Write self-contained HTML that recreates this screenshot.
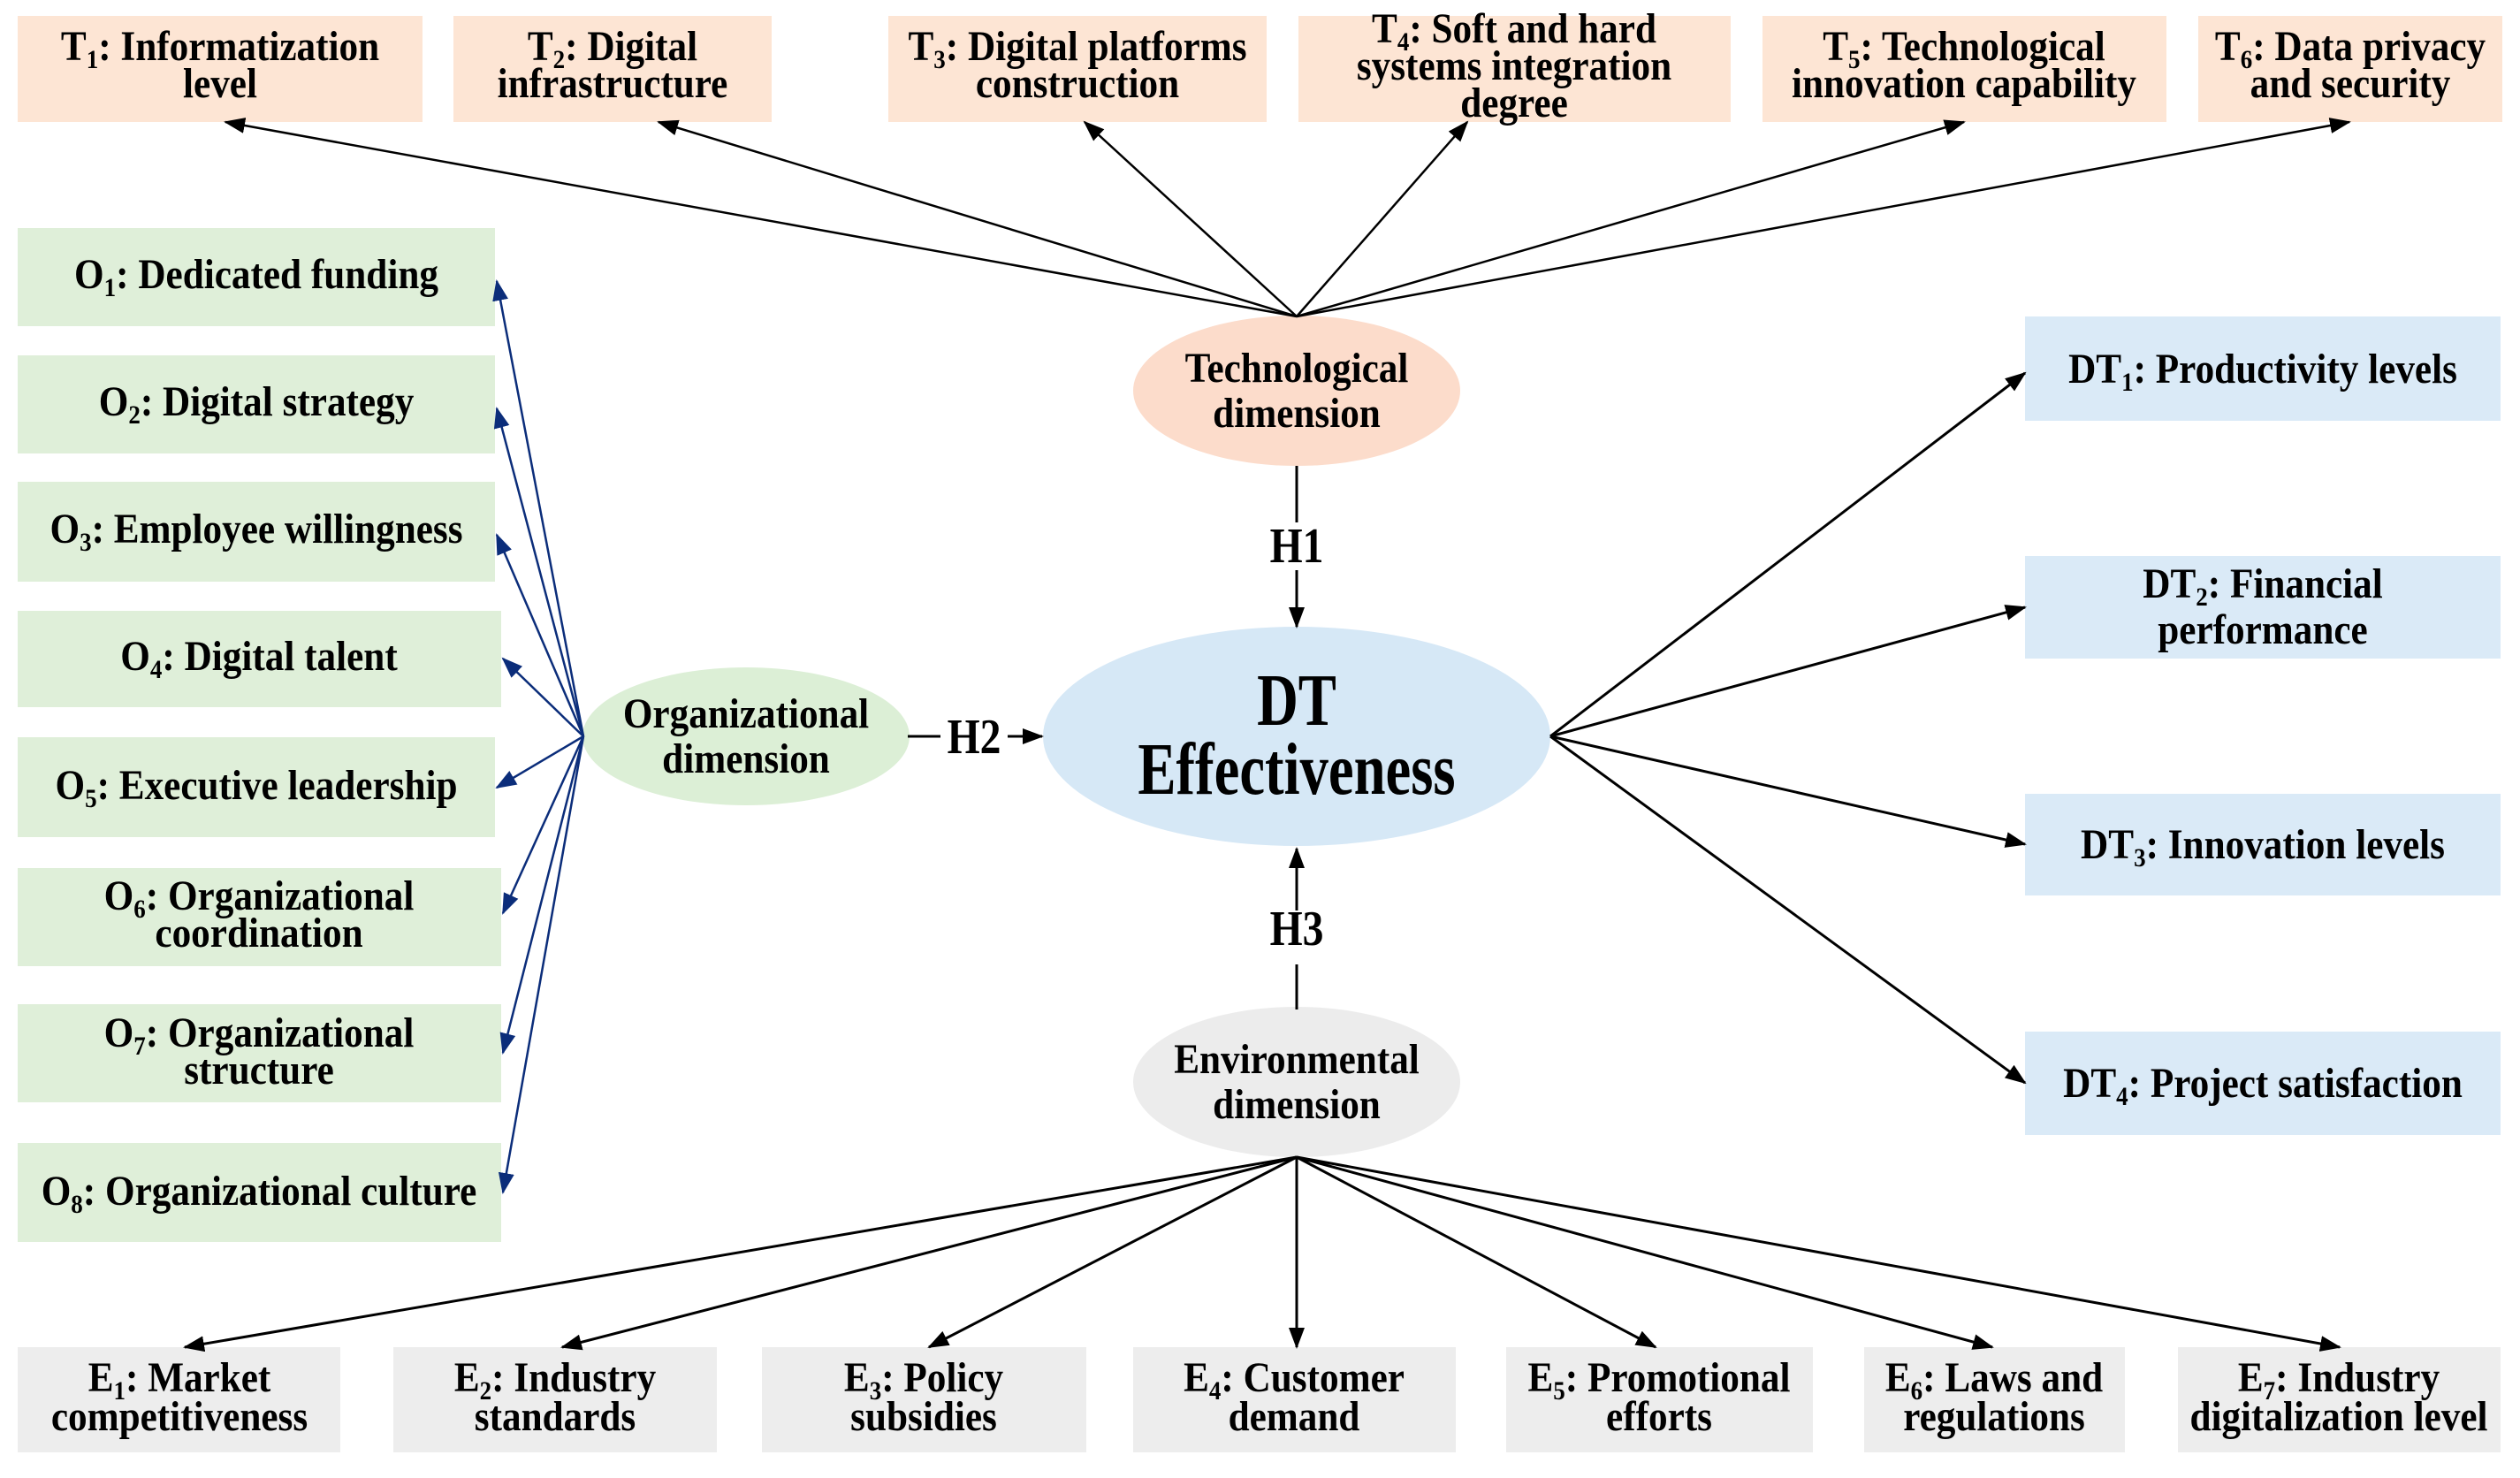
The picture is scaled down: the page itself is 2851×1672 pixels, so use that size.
<!DOCTYPE html>
<html><head><meta charset="utf-8"><style>
html,body{margin:0;padding:0;background:#fff;}
svg{display:block;}
text{font-family:"Liberation Serif","DejaVu Serif",serif;font-weight:bold;fill:#000;}
</style></head><body>
<svg width="2851" height="1672" viewBox="0 0 2851 1672" xmlns="http://www.w3.org/2000/svg">
<defs>
<marker id="ak" markerUnits="userSpaceOnUse" markerWidth="24" markerHeight="18" refX="22" refY="9" orient="auto"><path d="M0,0 L24,9 L0,18 Z" fill="#000"/></marker>
<marker id="ab" markerUnits="userSpaceOnUse" markerWidth="24" markerHeight="18" refX="22" refY="9" orient="auto"><path d="M0,0 L24,9 L0,18 Z" fill="#0b2d7a"/></marker>
</defs>

<g fill="#fde5d4">
<rect x="20" y="18" width="458" height="120"/>
<rect x="513" y="18" width="360" height="120"/>
<rect x="1005" y="18" width="428" height="120"/>
<rect x="1469" y="18" width="489" height="120"/>
<rect x="1994" y="18" width="457" height="120"/>
<rect x="2487" y="18" width="344" height="120"/>
</g>
<g fill="#dfefd9">
<rect x="20" y="258" width="540" height="111"/>
<rect x="20" y="402" width="540" height="111"/>
<rect x="20" y="545" width="540" height="113"/>
<rect x="20" y="691" width="547" height="109"/>
<rect x="20" y="834" width="540" height="113"/>
<rect x="20" y="982" width="547" height="111"/>
<rect x="20" y="1136" width="547" height="111"/>
<rect x="20" y="1293" width="547" height="112"/>
</g>
<g fill="#daeaf7">
<rect x="2291" y="358" width="538" height="118"/>
<rect x="2291" y="629" width="538" height="116"/>
<rect x="2291" y="898" width="538" height="115"/>
<rect x="2291" y="1167" width="538" height="117"/>
</g>
<g fill="#ededed">
<rect x="20" y="1524" width="365" height="119"/>
<rect x="445" y="1524" width="366" height="119"/>
<rect x="862" y="1524" width="367" height="119"/>
<rect x="1282" y="1524" width="365" height="119"/>
<rect x="1704" y="1524" width="347" height="119"/>
<rect x="2109" y="1524" width="295" height="119"/>
<rect x="2464" y="1524" width="365" height="119"/>
</g>

<ellipse cx="1467" cy="442" rx="185" ry="85" fill="#fcdccb"/>
<ellipse cx="844" cy="833" rx="185" ry="78" fill="#dcefd6"/>
<ellipse cx="1467" cy="833" rx="287" ry="124" fill="#d6e8f6"/>
<ellipse cx="1467" cy="1224" rx="185" ry="85" fill="#ececec"/>

<g stroke="#000" stroke-width="2.5" fill="none" marker-end="url(#ak)">
<line x1="1467" y1="358" x2="255" y2="138"/>
<line x1="1467" y1="358" x2="745" y2="138"/>
<line x1="1467" y1="358" x2="1227" y2="138"/>
<line x1="1467" y1="358" x2="1660" y2="138"/>
<line x1="1467" y1="358" x2="2222" y2="138"/>
<line x1="1467" y1="358" x2="2658" y2="138"/>
</g>
<g stroke="#000" stroke-width="3" fill="none" marker-end="url(#ak)">
<line x1="1754" y1="833" x2="2291" y2="422"/>
<line x1="1754" y1="833" x2="2291" y2="687"/>
<line x1="1754" y1="833" x2="2291" y2="955"/>
<line x1="1754" y1="833" x2="2291" y2="1225"/>
</g>
<g stroke="#000" stroke-width="3" fill="none" marker-end="url(#ak)">
<line x1="1467" y1="1309" x2="209" y2="1524"/>
<line x1="1467" y1="1309" x2="636" y2="1524"/>
<line x1="1467" y1="1309" x2="1051" y2="1524"/>
<line x1="1467" y1="1309" x2="1467" y2="1524"/>
<line x1="1467" y1="1309" x2="1873" y2="1524"/>
<line x1="1467" y1="1309" x2="2254" y2="1524"/>
<line x1="1467" y1="1309" x2="2647" y2="1524"/>
</g>
<g stroke="#0b2d7a" stroke-width="2.5" fill="none" marker-end="url(#ab)">
<line x1="660" y1="833" x2="562" y2="318"/>
<line x1="660" y1="833" x2="562" y2="462"/>
<line x1="660" y1="833" x2="562" y2="605"/>
<line x1="660" y1="833" x2="569" y2="745"/>
<line x1="660" y1="833" x2="562" y2="891"/>
<line x1="660" y1="833" x2="569" y2="1033"/>
<line x1="660" y1="833" x2="569" y2="1191"/>
<line x1="660" y1="833" x2="569" y2="1349"/>
</g>
<g stroke="#000" stroke-width="3" fill="none">
<line x1="1467" y1="527" x2="1467" y2="591"/>
<line x1="1467" y1="645" x2="1467" y2="709" marker-end="url(#ak)"/>
<line x1="1027" y1="833" x2="1064" y2="833"/>
<line x1="1140" y1="833" x2="1179" y2="833" marker-end="url(#ak)"/>
<line x1="1467" y1="1142" x2="1467" y2="1091"/>
<line x1="1467" y1="1030" x2="1467" y2="960" marker-end="url(#ak)"/>
</g>

<g font-size="48" text-anchor="middle" font-family="Liberation Serif, DejaVu Serif, serif" font-weight="bold">
<g transform="translate(249,0) scale(0.9,1)"><text x="0" y="68">T<tspan font-size="30" dy="9">1</tspan><tspan dy="-9">: Informatization</tspan></text><text x="0" y="110">level</text></g>
<g transform="translate(693,0) scale(0.9,1)"><text x="0" y="68">T<tspan font-size="30" dy="9">2</tspan><tspan dy="-9">: Digital</tspan></text><text x="0" y="110">infrastructure</text></g>
<g transform="translate(1219,0) scale(0.9,1)"><text x="0" y="68">T<tspan font-size="30" dy="9">3</tspan><tspan dy="-9">: Digital platforms</tspan></text><text x="0" y="110">construction</text></g>
<g transform="translate(1713,0) scale(0.9,1)"><text x="0" y="48">T<tspan font-size="30" dy="9">4</tspan><tspan dy="-9">: Soft and hard</tspan></text><text x="0" y="90">systems integration</text><text x="0" y="132">degree</text></g>
<g transform="translate(2222,0) scale(0.9,1)"><text x="0" y="68">T<tspan font-size="30" dy="9">5</tspan><tspan dy="-9">: Technological</tspan></text><text x="0" y="110">innovation capability</text></g>
<g transform="translate(2659,0) scale(0.9,1)"><text x="0" y="68">T<tspan font-size="30" dy="9">6</tspan><tspan dy="-9">: Data privacy</tspan></text><text x="0" y="110">and security</text></g>

<g transform="translate(290,0) scale(0.9,1)"><text x="0" y="326">O<tspan font-size="30" dy="9">1</tspan><tspan dy="-9">: Dedicated funding</tspan></text></g>
<g transform="translate(290,0) scale(0.9,1)"><text x="0" y="470">O<tspan font-size="30" dy="9">2</tspan><tspan dy="-9">: Digital strategy</tspan></text></g>
<g transform="translate(290,0) scale(0.9,1)"><text x="0" y="614">O<tspan font-size="30" dy="9">3</tspan><tspan dy="-9">: Employee willingness</tspan></text></g>
<g transform="translate(293,0) scale(0.9,1)"><text x="0" y="758">O<tspan font-size="30" dy="9">4</tspan><tspan dy="-9">: Digital talent</tspan></text></g>
<g transform="translate(290,0) scale(0.9,1)"><text x="0" y="904">O<tspan font-size="30" dy="9">5</tspan><tspan dy="-9">: Executive leadership</tspan></text></g>
<g transform="translate(293,0) scale(0.9,1)"><text x="0" y="1029">O<tspan font-size="30" dy="9">6</tspan><tspan dy="-9">: Organizational</tspan></text><text x="0" y="1071">coordination</text></g>
<g transform="translate(293,0) scale(0.9,1)"><text x="0" y="1184">O<tspan font-size="30" dy="9">7</tspan><tspan dy="-9">: Organizational</tspan></text><text x="0" y="1226">structure</text></g>
<g transform="translate(293,0) scale(0.9,1)"><text x="0" y="1363">O<tspan font-size="30" dy="9">8</tspan><tspan dy="-9">: Organizational culture</tspan></text></g>

<g transform="translate(2560,0) scale(0.9,1)"><text x="0" y="433">DT<tspan font-size="30" dy="9">1</tspan><tspan dy="-9">: Productivity levels</tspan></text></g>
<g transform="translate(2560,0) scale(0.9,1)"><text x="0" y="676">DT<tspan font-size="30" dy="9">2</tspan><tspan dy="-9">: Financial</tspan></text><text x="0" y="728">performance</text></g>
<g transform="translate(2560,0) scale(0.9,1)"><text x="0" y="971">DT<tspan font-size="30" dy="9">3</tspan><tspan dy="-9">: Innovation levels</tspan></text></g>
<g transform="translate(2560,0) scale(0.9,1)"><text x="0" y="1241">DT<tspan font-size="30" dy="9">4</tspan><tspan dy="-9">: Project satisfaction</tspan></text></g>

<g transform="translate(203,0) scale(0.9,1)"><text x="0" y="1574">E<tspan font-size="30" dy="9">1</tspan><tspan dy="-9">: Market</tspan></text><text x="0" y="1618">competitiveness</text></g>
<g transform="translate(628,0) scale(0.9,1)"><text x="0" y="1574">E<tspan font-size="30" dy="9">2</tspan><tspan dy="-9">: Industry</tspan></text><text x="0" y="1618">standards</text></g>
<g transform="translate(1045,0) scale(0.9,1)"><text x="0" y="1574">E<tspan font-size="30" dy="9">3</tspan><tspan dy="-9">: Policy</tspan></text><text x="0" y="1618">subsidies</text></g>
<g transform="translate(1464,0) scale(0.9,1)"><text x="0" y="1574">E<tspan font-size="30" dy="9">4</tspan><tspan dy="-9">: Customer</tspan></text><text x="0" y="1618">demand</text></g>
<g transform="translate(1877,0) scale(0.9,1)"><text x="0" y="1574">E<tspan font-size="30" dy="9">5</tspan><tspan dy="-9">: Promotional</tspan></text><text x="0" y="1618">efforts</text></g>
<g transform="translate(2256,0) scale(0.9,1)"><text x="0" y="1574">E<tspan font-size="30" dy="9">6</tspan><tspan dy="-9">: Laws and</tspan></text><text x="0" y="1618">regulations</text></g>
<g transform="translate(2646,0) scale(0.9,1)"><text x="0" y="1574">E<tspan font-size="30" dy="9">7</tspan><tspan dy="-9">: Industry</tspan></text><text x="0" y="1618">digitalization level</text></g>

<g transform="translate(1467,0) scale(0.9,1)"><text x="0" y="432">Technological</text><text x="0" y="483">dimension</text></g>
<g transform="translate(844,0) scale(0.9,1)"><text x="0" y="823">Organizational</text><text x="0" y="874">dimension</text></g>
<g transform="translate(1467,0) scale(0.9,1)"><text x="0" y="1214">Environmental</text><text x="0" y="1265">dimension</text></g>

<g font-size="56">
<g transform="translate(1467,0) scale(0.85,1)"><text x="0" y="636">H1</text></g>
<g transform="translate(1102,0) scale(0.85,1)"><text x="0" y="852">H2</text></g>
<g transform="translate(1467,0) scale(0.85,1)"><text x="0" y="1069">H3</text></g>
</g>
</g>

<g font-size="84" text-anchor="middle" font-family="Liberation Serif, DejaVu Serif, serif" font-weight="bold" transform="translate(1467,0) scale(0.77,1)">
<text x="0" y="820">DT</text>
<text x="0" y="898">Effectiveness</text>
</g>
</svg>
</body></html>
